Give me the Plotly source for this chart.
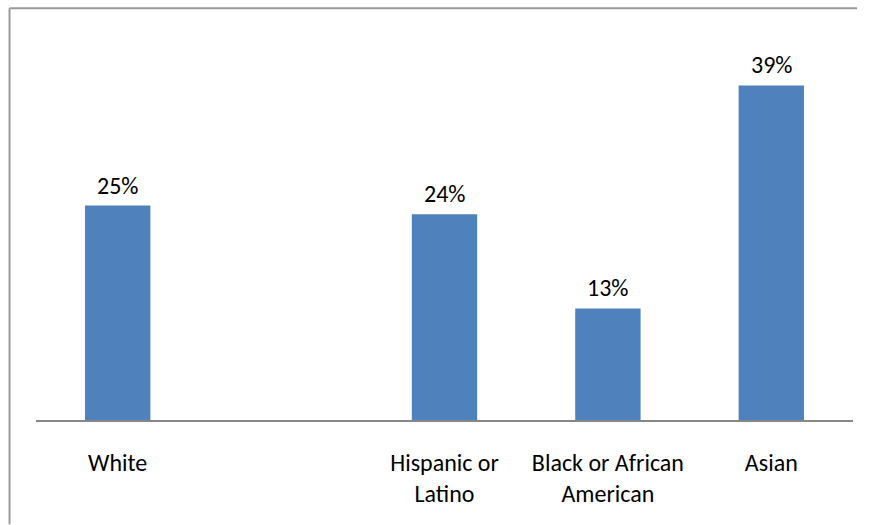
import plotly.graph_objects as go

# Share by group (blank slot kept between White and Hispanic or Latino)
categories = ["White", " ", "Hispanic or<br>Latino", "Black or African<br>American", "Asian"]
values = [25, None, 24, 13, 39]
labels = ["25%", "", "24%", "13%", "39%"]

FONT = "Carlito, Lato, sans-serif"
FONT_SIZE = 24
BAR_COLOR = "#4F81BD"

fig = go.Figure(
    go.Bar(
        x=categories,
        y=values,
        marker=dict(color=BAR_COLOR, line=dict(width=0)),
        hoverinfo="skip",
    )
)

# value labels above each bar
for cat, val, lab in zip(categories, values, labels):
    if val is None:
        continue
    fig.add_annotation(
        x=cat, y=val, text=lab, showarrow=False,
        yanchor="bottom", yshift=4,
        font=dict(family=FONT, size=FONT_SIZE, color="#000000"),
    )

# chart frame: left and top edges
frame = dict(color="#9a9a9a", width=2)
fig.add_shape(type="line", xref="paper", yref="paper",
              x0=-0.0324, x1=-0.0324, y0=1.067, y1=-0.27, line=frame)
fig.add_shape(type="line", xref="paper", yref="paper",
              x0=-0.0324, x1=1.005, y0=1.067, y1=1.067, line=frame)

fig.update_layout(
    width=870, height=525,
    margin=dict(l=36, r=17, t=34, b=105),
    paper_bgcolor="white", plot_bgcolor="white",
    bargap=0.6,
    showlegend=False,
    font=dict(family=FONT, size=FONT_SIZE, color="#000000"),
)
fig.update_xaxes(
    type="category", categoryorder="array", categoryarray=categories,
    showline=True, linecolor="#878787", linewidth=2,
    showgrid=False, ticks="", ticklabelstandoff=20,
    tickfont=dict(family=FONT, size=FONT_SIZE, color="#000000"),
    fixedrange=True,
)
fig.update_yaxes(
    range=[0, 45], visible=False, showgrid=False, zeroline=False, fixedrange=True,
)

fig.write_html("out.html", config={"displayModeBar": False})
